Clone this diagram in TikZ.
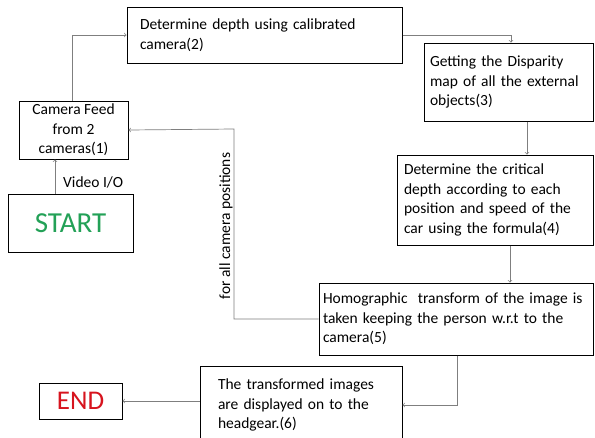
\documentclass[tikz,border=0pt]{standalone}
\usepackage{fontspec}
\setmainfont{Carlito}
\usepackage{tikz}
\usetikzlibrary{arrows}
\usetikzlibrary{calc}
\definecolor{startcolor}{HTML}{23A157}
\definecolor{endcolor}{HTML}{D7141E}
\definecolor{flowcolor}{HTML}{7F7F7F}
\tikzset{
  procbox/.style={draw=black, line width=1pt, inner sep=0pt, align=left, font=\fontsize{15.5}{19.5}\selectfont},
  flow/.style={flowcolor, line width=0.7pt, -to},
  lbl/.style={font=\fontsize{15.5}{19.5}\selectfont, inner sep=0pt}
}

\begin{document}
\begin{tikzpicture}[x=1pt,y=-1pt]
\fill[white] (0,0) rectangle (595,437);
\useasboundingbox (0,0) rectangle (595,437);
%% process boxes
\node[procbox, align=center, minimum width=109, minimum height=58] (feed) at (73.5,130) {Camera Feed\\from 2\\cameras(1)};
\node[procbox, minimum width=275, minimum height=56, text width=249] (depth) at (264.5,35) {Determine depth using calibrated\\camera(2)};
\node[procbox, minimum width=169, minimum height=78, text width=157] (disp) at (508.5,82) {Getting the Disparity\\map of all the external\\objects(3)};
\node[procbox, minimum width=196, minimum height=90, text width=182] (crit) at (495,200) {Determine the critical\\depth according to each\\position and speed of the\\car using the formula(4)};
\node[procbox, minimum width=274, minimum height=72, text width=266] (homo) at (456,319) {Homographic\ \ transform of the image is\\taken keeping the person w.r.t to the\\camera(5)};
\node[procbox, minimum width=202, minimum height=78, text width=166] (show) at (301,405) {The transformed images\\are displayed on to the\\headgear.(6)};
%% start and end
\node[procbox, minimum width=125, minimum height=58, align=center, text=startcolor, font=\fontsize{29}{34}\selectfont] (start) at (70.5,223) {START};
\node[procbox, minimum width=83, minimum height=36, align=center, text=endcolor, font=\fontsize{27}{32}\selectfont] (end) at (80.5,401) {END};
%% labels
\node[lbl, anchor=west] (video) at (63,182) {Video I/O};
\node[lbl, rotate=90] (loopl) at (226,226) {for all camera positions};
%% connectors
\draw[flow] ($(start.north)+(-15.5,0)$) -- ($(feed.south)+(-18.5,0)$);
\draw[flow] ($(feed.north)+(-1.5,0)$) |- (depth.west);
\draw[flow] (depth.east) -| ($(disp.north)+(2.5,0)$);
\draw[flow] ($(disp.south)+(18.5,0)$) -- ($(crit.north)+(32,0)$);
\draw[flow] ($(crit.south)+(15,0)$) -- ($(homo.north)+(54,0)$);
\coordinate (loop) at (234,129);
\draw[flow] (homo.west) -| (loop) -- (feed.east);
\draw[flow] ($(homo.south)+(1,0)$) |- (show.east);
\draw[flow] (show.west |- end.east) -- (end.east);
\end{tikzpicture}
\end{document}
